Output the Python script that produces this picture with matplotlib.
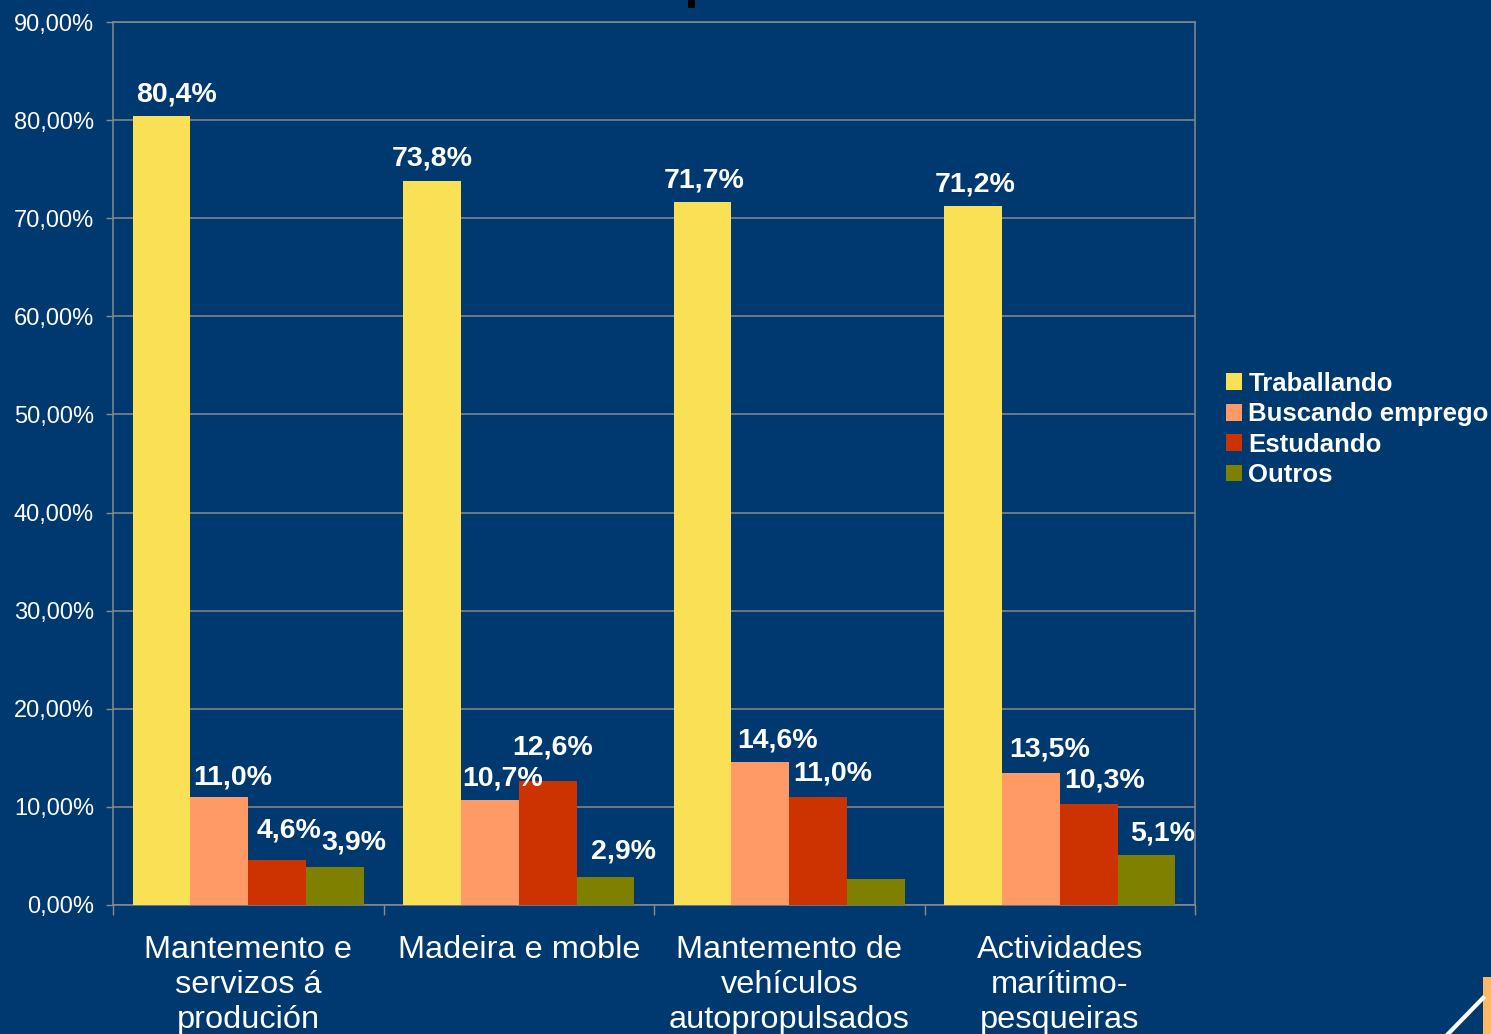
import matplotlib.pyplot as plt
from matplotlib.patches import Rectangle
from matplotlib.lines import Line2D
import numpy as np

categories = ["Mantemento e\nservizos á\nprodución", "Madeira e moble",
              "Mantemento de\nvehículos\nautopropulsados", "Actividades\nmarítimo-\npesqueiras"]
series = ["Traballando", "Buscando emprego", "Estudando", "Outros"]
traballando = [80.4, 73.8, 71.7, 71.2]
buscando = [11.0, 10.7, 14.6, 13.5]
estudando = [4.6, 12.6, 11.0, 10.3]
outros = [3.9, 2.9, 2.7, 5.1]
# Outros in the third group has no label in the original
show_label = [[True, True, True, True], [True, True, True, True],
              [True, True, True, True], [True, True, False, True]]

colors = ["#FAE055", "#FF9966", "#CC3300", "#808000"]
bg = "#003870"

# label nudges in pixels (dx, dy of text centre above bar top), per series x group
nudge_x = [[15, 0, 2, 2], [13, 13, 17, 19], [12, 5, 15, 16], [19, 18, 0, 16]]
nudge_y = [[24, 25, 24, 24], [22, 24, 24, 26], [32, 36, 26, 26], [27, 28, 24, 24]]

plt.rcParams['font.family'] = ['Liberation Sans', 'DejaVu Sans']

W, H = 1491, 1034
fig = plt.figure(figsize=(W / 100, H / 100), dpi=100, facecolor=bg)
ax = fig.add_axes([113 / W, 1 - 905 / H, (1195 - 113) / W, (905 - 22) / H])
ax.set_facecolor(bg)

x = np.arange(len(categories))
bw = 0.2135
values = [traballando, buscando, estudando, outros]
px = 72 / 100  # pixels -> points
for i, (name, vals) in enumerate(zip(series, values)):
    xs = x + (i - 1.5) * bw
    ax.bar(xs, vals, bw, color=colors[i], label=name, zorder=3, linewidth=0)
    for j, (xx, v) in enumerate(zip(xs, vals)):
        if not show_label[i][j]:
            continue
        ax.annotate(f"{v:.1f}%".replace(".", ","), (xx, v),
                    xytext=(nudge_x[i][j] * px, (nudge_y[i][j] - 2.5) * px),
                    textcoords="offset points", ha="center", va="center",
                    color="white", fontsize=20.5, fontweight="bold", zorder=4)

ax.set_xlim(-0.5, 3.5)
ax.set_ylim(0, 90)
ax.set_yticks(np.arange(0, 91, 10))
ax.set_yticklabels([f"{t:.2f}%".replace(".", ",") for t in np.arange(0, 91, 10)])
ax.yaxis.grid(True, color="#8a8a8a", linewidth=1.1, zorder=0)
ax.set_xticks(x)
ax.set_xticklabels(categories, linespacing=1.22)
ax.set_xticks(np.arange(-0.5, 4, 1), minor=True)
ax.tick_params(axis="x", which="major", length=0, pad=21.5, labelsize=23.4, colors="white")
ax.tick_params(axis="x", which="minor", length=7, width=1, color="#8a8a8a", direction="out")
ax.tick_params(axis="y", length=5, width=1, color="#8a8a8a", pad=8.6,
               labelsize=17, labelcolor="white")
for s in ax.spines.values():
    s.set_color("#8a8a8a")
    s.set_linewidth(1.1)

leg = ax.legend(loc="center left", bbox_to_anchor=(1226 / W, 1 - 429.5 / H),
                bbox_transform=fig.transFigure, frameon=False, borderpad=0,
                borderaxespad=0, handlelength=0.62, handleheight=0.62,
                handletextpad=0.25, labelspacing=0.25,
                prop={"weight": "bold", "size": 18.5})
for t in leg.get_texts():
    t.set_color("white")

# slide decorations
fig.patches.append(Rectangle((688 / W, 1 - 8 / H), 7 / W, 8 / H, transform=fig.transFigure,
                             facecolor="black", edgecolor="none"))
fig.patches.append(Rectangle((1483 / W, 0), 8 / W, 57 / H, transform=fig.transFigure,
                             facecolor="#FFB966", edgecolor="none"))
fig.lines.append(Line2D([1448 / W, 1483 / W], [0, 36 / H], transform=fig.transFigure,
                        color="white", linewidth=3))

fig.savefig("out.png", dpi=100, facecolor=bg)
